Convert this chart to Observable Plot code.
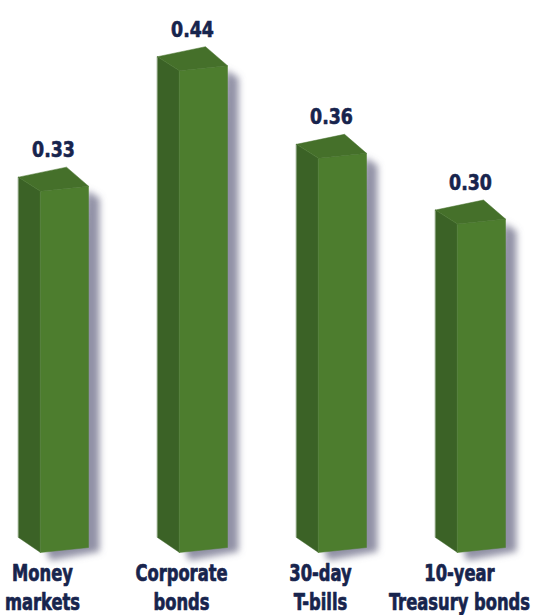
<!DOCTYPE html>
<html>
<head>
<meta charset="utf-8">
<script src="https://cdn.jsdelivr.net/npm/d3@7"></script>
<script src="https://cdn.jsdelivr.net/npm/@observablehq/plot@0.6"></script>
<style>
  html, body { margin: 0; padding: 0; background: #ffffff; }
  #chart { width: 552px; height: 615px; }
</style>
</head>
<body>
<div id="chart"></div>
<script>
// ---- data ----
const categories = ["Money\nmarkets", "Corporate\nbonds", "30-day\nT-bills", "10-year\nTreasury bonds"];
const values = [0.33, 0.44, 0.36, 0.30];
const valueLabels = ["0.33", "0.44", "0.36", "0.30"];

// ---- geometry (scale-space constants) ----
const PX_X = 139;   // px per category step
const PX_Y = 1095;  // px per unit value
const W = 48 / PX_X;     // front face width
const D = 22 / PX_X;     // depth (leftwards)
const S = 5 / PX_Y;      // front edge slope rise
const ET = 14 / PX_Y;    // top depth rise
const EB = 15 / PX_Y;    // bottom depth rise
const BR = 10 / PX_Y;    // back edge rise

const bars = values.map((v, i) => ({i, v, label: valueLabels[i], cat: categories[i]}));

const frontFaces = [], leftFaces = [], topFaces = [], shadowFaces = [];
bars.forEach(({i, v}) => {
  const xl = i - W / 2, xr = i + W / 2, xb = xl - D;
  frontFaces.push({id: i, x: xl, y: v}, {id: i, x: xr, y: v + S}, {id: i, x: xr, y: S}, {id: i, x: xl, y: 0});
  leftFaces.push({id: i, x: xb, y: v + ET}, {id: i, x: xl, y: v}, {id: i, x: xl, y: 0}, {id: i, x: xb, y: EB});
  topFaces.push({id: i, x: xb, y: v + ET}, {id: i, x: xb + W, y: v + ET + BR}, {id: i, x: xr, y: v + S}, {id: i, x: xl, y: v});
  const sx = 2 / PX_X, sw = 11 / PX_X;
  shadowFaces.push({id: i, x: xr - sx, y: v + S - 4 / PX_Y}, {id: i, x: xr + sw, y: v + S - 12 / PX_Y},
              {id: i, x: xr + sw, y: S - 4 / PX_Y}, {id: i, x: xl + 10 / PX_X, y: -8 / PX_Y}, {id: i, x: xl + 6 / PX_X, y: 0});
});

const FONT = "'DejaVu Sans Condensed', 'DejaVu Sans', sans-serif";
const INK = "#17244d";

const chart = Plot.plot({
  width: 552,
  height: 615,
  margin: 0,
  x: {type: "linear", domain: [0, 3], range: [64, 481], axis: null},
  y: {type: "linear", domain: [0, 0.5], range: [552, 552 - 0.5 * PX_Y], axis: null},
  marks: [
    Plot.line(shadowFaces, {x: "x", y: "y", z: "id", curve: "linear-closed", fill: "#6c6c88", fillOpacity: 0.75, stroke: "none"}),
    Plot.line(leftFaces, {x: "x", y: "y", z: "id", curve: "linear-closed", fill: "#3b6226", stroke: "#3b6226", strokeWidth: 0.5}),
    Plot.line(frontFaces, {x: "x", y: "y", z: "id", curve: "linear-closed", fill: "#4d7d2e", stroke: "#4d7d2e", strokeWidth: 0.5}),
    Plot.line(topFaces, {x: "x", y: "y", z: "id", curve: "linear-closed", fill: "#45702a", stroke: "#45702a", strokeWidth: 0.5}),
    Plot.text(bars, {x: "i", y: "v", text: "label", dx: -11, dy: -34, lineAnchor: "bottom",
      fontSize: 21, fontWeight: "bold", fill: INK, stroke: INK, strokeWidth: 0.6, fontFamily: FONT}),
    Plot.text(bars, {x: "i", y: 0, text: "cat", dx: -22, dy: 57, lineAnchor: "bottom", lineHeight: 1.26,
      fontSize: 23, fontWeight: "bold", fill: INK, stroke: INK, strokeWidth: 0.7, fontFamily: FONT})
  ]
});

const markGroups = chart.querySelectorAll(":scope > g");

// soft blur for the shadow
const ns = "http://www.w3.org/2000/svg";
const defs = document.createElementNS(ns, "defs");
const filt = document.createElementNS(ns, "filter");
filt.setAttribute("id", "soft");
filt.setAttribute("x", "-50%"); filt.setAttribute("y", "-10%");
filt.setAttribute("width", "200%"); filt.setAttribute("height", "120%");
const blur = document.createElementNS(ns, "feGaussianBlur");
blur.setAttribute("stdDeviation", "3.5");
filt.appendChild(blur);
defs.appendChild(filt);
chart.insertBefore(defs, chart.firstChild);
if (markGroups[0]) markGroups[0].setAttribute("filter", "url(#soft)");

// narrow (condensed) lettering, scaled about each text's anchor
function condense(g, k) {
  if (!g) return;
  g.querySelectorAll("text").forEach(el => {
    let t = el.getAttribute("transform") || "";
    const x = el.getAttribute("x"), y = el.getAttribute("y");
    if (x != null || y != null) {
      t = `${t} translate(${x || 0},${y || 0})`;
      el.removeAttribute("x"); el.removeAttribute("y");
    }
    el.setAttribute("transform", `${t} scale(${k},1)`);
  });
}
condense(markGroups[4], 0.92);
condense(markGroups[5], 0.79);

document.getElementById("chart").appendChild(chart);
</script>
</body>
</html>
